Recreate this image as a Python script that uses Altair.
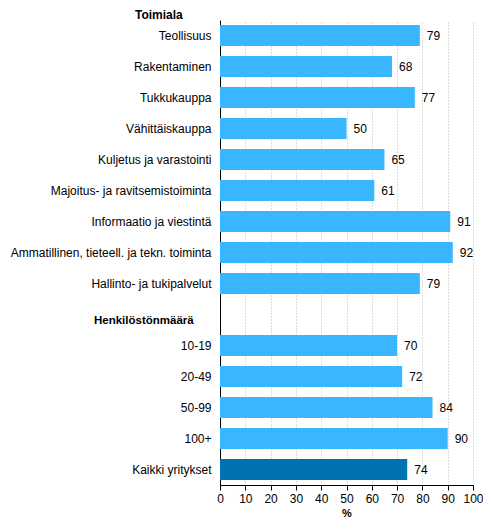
import altair as alt
import pandas as pd

categories = ['Teollisuus', 'Rakentaminen', 'Tukkukauppa', 'Vähittäiskauppa', 'Kuljetus ja varastointi',
              'Majoitus- ja ravitsemistoiminta', 'Informaatio ja viestintä',
              'Ammatillinen, tieteell. ja tekn. toiminta', 'Hallinto- ja tukipalvelut', ' ',
              '10-19', '20-49', '50-99', '100+', 'Kaikki yritykset']
values = [79, 68, 77, 50, 65, 61, 91, 92, 79, None, 70, 72, 84, 90, 74]
groups = ['ala'] * 9 + ['tyhjä'] + ['koko'] * 4 + ['kaikki']
x_ticks = [0, 10, 20, 30, 40, 50, 60, 70, 80, 90, 100]

header_1 = 'Toimiala'
header_2 = 'Henkilöstönmäärä'

FONT = 'Liberation Sans'

x_axis = alt.Axis(values=x_ticks, tickCount=11, grid=True, gridColor='#bbbbbb', gridDash=[1, 2],
                  domainColor='black', tickColor='black', tickSize=5, labelFontSize=12,
                  labelColor='black', labelFont=FONT, labelOverlap=False, labelFlush=False,
                  titleFont=FONT, titleFontSize=11, titleFontWeight='bold', titleColor='black',
                  titlePadding=3, labelPadding=3)
y_axis = alt.Axis(domainColor='black', ticks=False, labelPadding=9, labelFontSize=12,
                  labelColor='black', labelFont=FONT, labelLimit=260)
x_scale = alt.Scale(domain=[0, 100])
y_scale = alt.Scale(domain=categories, paddingInner=0.32, paddingOuter=0.16)


def bar_chart():
    data = pd.DataFrame({'Luokka': categories, 'Osuus': values, 'Ryhmä': groups})
    data = data[data['Osuus'].notna()]

    bars = alt.Chart(data).mark_bar().encode(
        x=alt.X('Osuus:Q', title='%', scale=x_scale, axis=x_axis),
        y=alt.Y('Luokka:N', title=None, scale=y_scale, axis=y_axis),
        color=alt.Color('Ryhmä:N', scale=alt.Scale(domain=['ala', 'koko', 'kaikki'],
                                                   range=['#38b6ff', '#38b6ff', '#0072b0']), legend=None)
    )

    labels = alt.Chart(data).mark_text(align='left', baseline='middle', dx=7, fontSize=12, font=FONT,
                                       color='black').encode(
        x=alt.X('Osuus:Q', title='%', scale=x_scale, axis=x_axis),
        y=alt.Y('Luokka:N', title=None, scale=y_scale, axis=y_axis),
        text='Osuus:Q'
    )

    head_1 = alt.Chart(pd.DataFrame({'t': [header_1], 'Luokka': ['Teollisuus']})).mark_text(
        align='left', baseline='middle', dy=-21, fontSize=12, fontWeight='bold', font=FONT, color='black'
    ).encode(x=alt.value(-85), y=alt.Y('Luokka:N', title=None, scale=y_scale, axis=y_axis), text='t:N')

    head_2 = alt.Chart(pd.DataFrame({'t': [header_2], 'Luokka': [' ']})).mark_text(
        align='left', baseline='middle', dy=6, fontSize=11.5, fontWeight='bold', font=FONT, color='black'
    ).encode(x=alt.value(-126), y=alt.Y('Luokka:N', title=None, scale=y_scale, axis=y_axis), text='t:N')

    chart = (bars + labels + head_1 + head_2).properties(
        width=253,
        height=465,
        autosize=alt.AutoSizeParams(type='none'),
        padding={'left': 212, 'top': 12, 'right': 10, 'bottom': 35}
    ).configure_view(stroke=None)

    return chart


chart = bar_chart()
chart.save("out.html", embed_options={"renderer": "svg", "actions": False})
